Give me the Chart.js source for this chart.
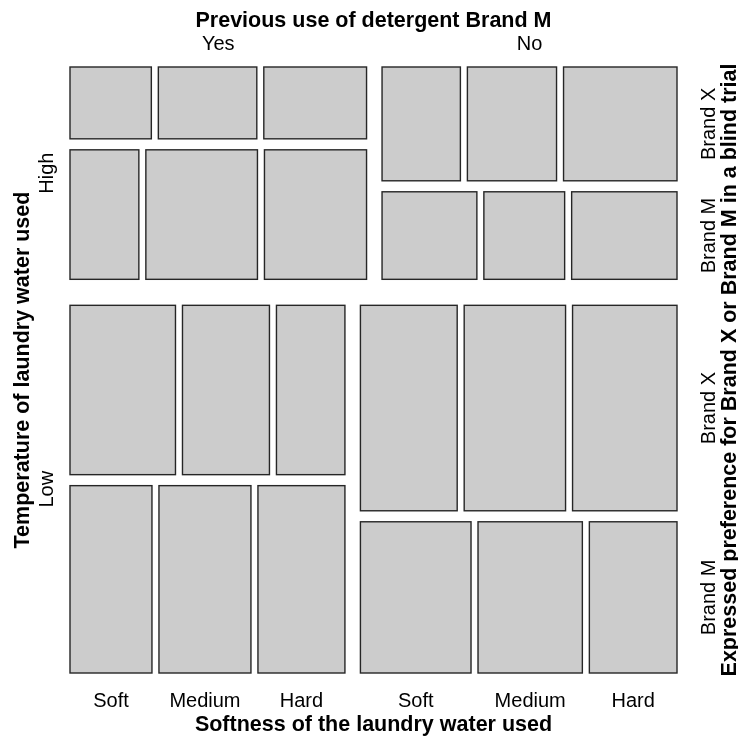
<!DOCTYPE html>
<html>
<head>
<meta charset="utf-8">
<title>Detergent preference mosaic</title>
<script src="https://cdn.jsdelivr.net/npm/chart.js@4.4.1/dist/chart.umd.min.js"></script>
<style>
  html, body { margin: 0; padding: 0; background: #ffffff; }
  canvas { display: block; }
</style>
</head>
<body>
<canvas id="chart" width="738" height="738"></canvas>
<script>
// Factor levels
const temperature = ['High', 'Low'];
const mUser = ['Yes', 'No'];
const preference = ['Brand X', 'Brand M'];
const softness = ['Soft', 'Medium', 'Hard'];

// Counts by water softness (Soft, Medium, Hard)
const highYesX = [19, 23, 24];
const highYesM = [29, 47, 43];
const highNoX  = [29, 33, 42];
const highNoM  = [27, 23, 30];
const lowYesX  = [57, 47, 37];
const lowYesM  = [49, 55, 52];
const lowNoX   = [63, 66, 68];
const lowNoM   = [53, 50, 42];

// Axis titles
const titleTop = 'Previous use of detergent Brand M';
const titleLeft = 'Temperature of laundry water used';
const titleRight = 'Expressed preference for Brand X or Brand M in a blind trial';
const titleBottom = 'Softness of the laundry water used';

// counts[temperature][user][preference] -> softness array
const counts = [
  [[highYesX, highYesM], [highNoX, highNoM]],
  [[lowYesX, lowYesM], [lowNoX, lowNoM]]
];

// Spacing between tiles, as a fraction of the plotting region (grows with split level)
const GAP_TEMP = 26 / 606;
const GAP_USER = 15.5 / 607;
const GAP_PREF = 11 / 606;
const GAP_SOFT = 7 / 607;

const sum = a => a.reduce((s, v) => s + v, 0);
const sumDeep = a => Array.isArray(a) ? a.reduce((s, v) => s + sumDeep(v), 0) : a;

// Recursive splitting: temperature (vertical), user (horizontal),
// preference (vertical), softness (horizontal)
const cells = [];
const blocks = { temp: [], user: [], pref: [], soft: [] };
const total = sumDeep(counts);
let yPos = 0;
counts.forEach((tArr, ti) => {
  const tTot = sumDeep(tArr);
  const h = (1 - GAP_TEMP) * tTot / total;
  blocks.temp.push({ ti, y0: yPos, y1: yPos + h });
  let xPos = 0;
  tArr.forEach((uArr, ui) => {
    const uTot = sumDeep(uArr);
    const w = (1 - GAP_USER) * uTot / tTot;
    blocks.user.push({ ti, ui, x0: xPos, x1: xPos + w });
    let yp = yPos;
    uArr.forEach((pArr, pi) => {
      const pTot = sum(pArr);
      const hp = (h - GAP_PREF) * pTot / uTot;
      blocks.pref.push({ ti, ui, pi, y0: yp, y1: yp + hp });
      let xs = xPos;
      pArr.forEach((n, si) => {
        const ws = (w - 2 * GAP_SOFT) * n / pTot;
        const cell = { ti, ui, pi, si, n, x0: xs, x1: xs + ws, y0: yp, y1: yp + hp };
        cells.push(cell);
        blocks.soft.push(cell);
        xs += ws + GAP_SOFT;
      });
      yp += hp + GAP_PREF;
    });
    xPos += w + GAP_USER;
  });
  yPos += h + GAP_TEMP;
});

const FONT = '"Liberation Sans", Arial, Helvetica, sans-serif';

const background = {
  id: 'background',
  beforeDraw(chart) {
    const { ctx, width, height } = chart;
    ctx.save();
    ctx.fillStyle = '#ffffff';
    ctx.fillRect(0, 0, width, height);
    ctx.restore();
  }
};

// Tiles of the mosaic, placed through the chart's x/y scales
const mosaicTiles = {
  id: 'mosaicTiles',
  beforeDatasetsDraw(chart) {
    const { ctx, scales: { x, y } } = chart;
    ctx.save();
    ctx.fillStyle = '#CCCCCC';
    ctx.strokeStyle = '#262626';
    ctx.lineWidth = 1.4;
    cells.forEach(c => {
      const px0 = x.getPixelForValue(c.x0);
      const px1 = x.getPixelForValue(c.x1);
      const py0 = y.getPixelForValue(c.y0);
      const py1 = y.getPixelForValue(c.y1);
      ctx.fillRect(px0, py0, px1 - px0, py1 - py0);
      ctx.strokeRect(px0, py0, px1 - px0, py1 - py0);
    });
    ctx.restore();
  }
};

function drawRotated(ctx, text, px, py) {
  ctx.save();
  ctx.translate(px, py);
  ctx.rotate(-Math.PI / 2);
  ctx.fillText(text, 0, 0);
  ctx.restore();
}

// Level labels and variable names around the four sides
const mosaicLabels = {
  id: 'mosaicLabels',
  afterDraw(chart) {
    const { ctx, chartArea: a, scales: { x, y } } = chart;
    const regular = '20px ' + FONT;
    const bold = 'bold 21.5px ' + FONT;
    const cx = (a.left + a.right) / 2;
    const cy = (a.top + a.bottom) / 2;
    ctx.save();
    ctx.fillStyle = '#000000';
    ctx.textAlign = 'center';
    ctx.textBaseline = 'alphabetic';

    // top: user levels, positioned over the first temperature row
    ctx.font = bold;
    ctx.fillText(titleTop, cx, a.top - 40);
    ctx.font = regular;
    blocks.user.filter(b => b.ti === 0).forEach(b => {
      const px = x.getPixelForValue((b.x0 + b.x1) / 2);
      ctx.fillText(mUser[b.ui], px, a.top - 17);
    });

    // bottom: softness levels, under the last row of tiles
    ctx.font = bold;
    ctx.fillText(titleBottom, cx, a.bottom + 58);
    ctx.font = regular;
    blocks.soft.filter(c => c.ti === temperature.length - 1 && c.pi === preference.length - 1).forEach(c => {
      const px = x.getPixelForValue((c.x0 + c.x1) / 2);
      ctx.fillText(softness[c.si], px, a.bottom + 34);
    });

    // left: temperature levels
    ctx.font = bold;
    drawRotated(ctx, titleLeft, a.left - 41, cy);
    ctx.font = regular;
    blocks.temp.forEach(b => {
      const py = y.getPixelForValue((b.y0 + b.y1) / 2);
      drawRotated(ctx, temperature[b.ti], a.left - 17, py);
    });

    // right: preference levels, beside the last user column
    ctx.font = regular;
    blocks.pref.filter(b => b.ui === mUser.length - 1).forEach(b => {
      const py = y.getPixelForValue((b.y0 + b.y1) / 2);
      drawRotated(ctx, preference[b.pi], a.right + 38, py);
    });
    ctx.font = bold;
    drawRotated(ctx, titleRight, a.right + 59, cy);

    ctx.restore();
  }
};

new Chart(document.getElementById('chart'), {
  type: 'scatter',
  data: { datasets: [{ data: [], pointRadius: 0 }] },
  options: {
    responsive: false,
    animation: false,
    events: [],
    layout: { padding: { left: 70, right: 61, top: 67, bottom: 65 } },
    plugins: { legend: { display: false }, tooltip: { enabled: false } },
    scales: {
      x: { type: 'linear', min: 0, max: 1, display: false },
      y: { type: 'linear', min: 0, max: 1, reverse: true, display: false }
    }
  },
  plugins: [background, mosaicTiles, mosaicLabels]
});
</script>
</body>
</html>
